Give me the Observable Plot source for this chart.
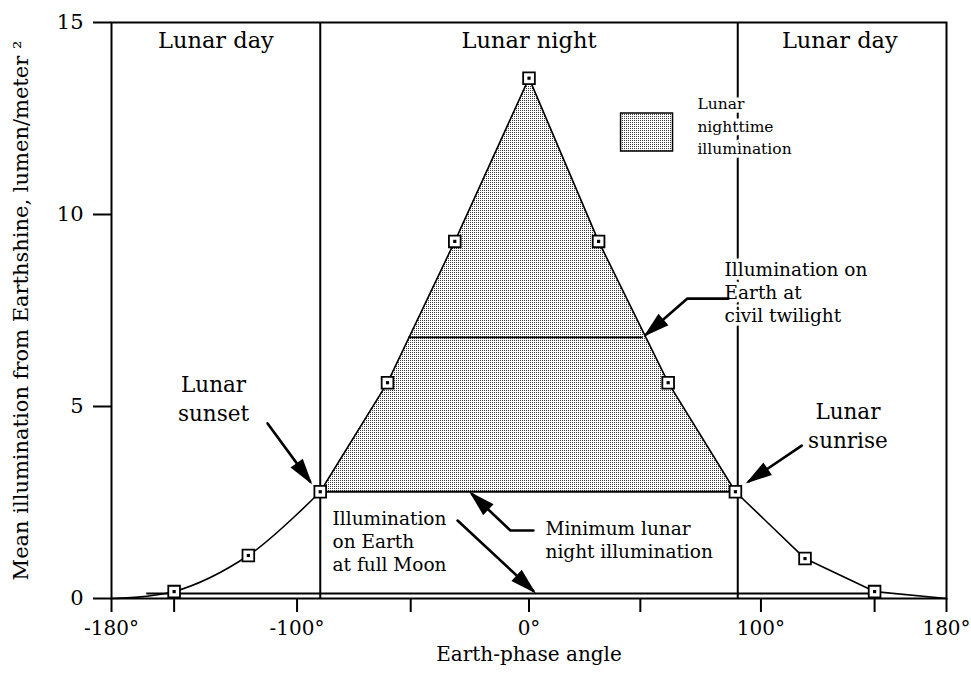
<!DOCTYPE html>
<html>
<head>
<meta charset="utf-8">
<script src="https://cdn.jsdelivr.net/npm/d3@7"></script>
<script src="https://cdn.jsdelivr.net/npm/@observablehq/plot@0.6"></script>
<style>
  html, body { margin: 0; padding: 0; background: white; }
  #chart { width: 971px; height: 678px; }
</style>
</head>
<body>
<svg width="0" height="0" style="position:absolute">
  <defs>
    <pattern id="stipple" width="2" height="2" patternUnits="userSpaceOnUse">
      <rect width="2" height="2" fill="white"/>
      <rect x="0" y="0" width="1" height="1" fill="#3a3a3a"/>
    </pattern>
  </defs>
</svg>
<div id="chart"></div>
<script>
// ---- data ----
const angles = [-180, -153, -121, -90, -61, -32, 0, 30, 60, 89, 119, 149, 180];
const illumination = [0, 0.18, 1.12, 2.78, 5.62, 9.3, 13.55, 9.3, 5.62, 2.78, 1.04, 0.18, 0];
const markerAngles = [-153, -121, -90, -61, -32, 0, 30, 60, 89, 119, 149];
const minNightIllum = 2.78;
const civilTwilightIllum = 6.8;
const civilTwilightRange = [-52, 49];
const fullMoonIllum = 0.13;
const fullMoonRange = [-165, 149];
const phaseBoundaries = [-90, 90];

const xTickValues = [-180, -153, -100, -51, 0, 48, 100, 149, 180];
const xTickLabels = ["-180°", "", "-100°", "", "0°", "", "100°", "", "180°"];
const yTickValues = [0, 5, 10, 15];

// annotation texts and their anchors (data coordinates)
const headerText = ["Lunar day", "Lunar night", "Lunar day"];
const headerX = [-135, 0, 134];
const headerY = [14.52, 14.52, 14.52];

const eventText = ["Lunar\nsunset", "Lunar\nsunrise"];
const eventX = [-136, 137.5];
const eventY = [5.23, 4.53];

const noteText = ["Illumination on\nEarth at\ncivil twilight", "Illumination\non Earth\nat full Moon", "Minimum lunar\nnight illumination"];
const noteX = [84.3, -84.7, 7.1];
const noteY = [7.99, 1.51, 1.54];

const legendText = "Lunar\nnighttime\nillumination";
const legendTextPos = [72.6, 12.34];
const legendBox = [39.7, 62.1, 11.64, 12.63];

// arrows: each a polyline, the last point being the tip
const arrowPaths = [
  [[-112.7, 4.56], [-94.4, 3.05]],            // lunar sunset
  [[117.6, 3.98], [94.8, 3.05]],              // lunar sunrise
  [[86.0, 7.81], [68.3, 7.81], [50.6, 6.88]], // civil twilight
  [[1.9, 1.77], [-8.0, 1.77], [-24.6, 2.72]], // minimum night illumination
  [[-30.8, 2.03], [1.8, 0.2]]                 // full moon
];

// ---- build tables ----
const curve = angles.map((a, i) => ({x: a, y: illumination[i]}));
const leftCurve = curve.filter(d => d.x <= -90);
const mainCurve = curve.filter(d => d.x >= -90);
const markers = curve.filter(d => markerAngles.includes(d.x));
const nightArea = curve.filter(d => d.x >= phaseBoundaries[0] && d.x <= phaseBoundaries[1]);
const arrowRows = arrowPaths.flatMap((p, k) => p.map(([x, y]) => ({k, x, y})));
const headers = headerText.map((t, i) => ({t, x: headerX[i], y: headerY[i]}));
const events = eventText.map((t, i) => ({t, x: eventX[i], y: eventY[i]}));
const notes = noteText.map((t, i) => ({t, x: noteX[i], y: noteY[i]}));

const serif = "DejaVu Serif";

const plot = Plot.plot({
  width: 971,
  height: 678,
  marginLeft: 111,
  marginRight: 25,
  marginTop: 22,
  marginBottom: 80,
  style: {fontFamily: serif, fontSize: "19px", background: "white", color: "black"},
  x: {domain: [-180, 180]},
  y: {domain: [0, 15]},
  marks: [
    Plot.areaY(nightArea, {x: "x", y1: minNightIllum, y2: "y", fill: "url(#stipple)"}),
    Plot.ruleX(phaseBoundaries, {stroke: "black", strokeWidth: 2}),
    Plot.line(leftCurve, {x: "x", y: "y", curve: "catmull-rom", stroke: "black", strokeWidth: 1.6}),
    Plot.line(mainCurve, {x: "x", y: "y", stroke: "black", strokeWidth: 1.6}),
    Plot.link([0], {x1: phaseBoundaries[0], x2: phaseBoundaries[1], y1: minNightIllum, y2: minNightIllum, stroke: "black", strokeWidth: 2}),
    Plot.link([0], {x1: civilTwilightRange[0], x2: civilTwilightRange[1], y1: civilTwilightIllum, y2: civilTwilightIllum, stroke: "black", strokeWidth: 1.8}),
    Plot.link([0], {x1: fullMoonRange[0], x2: fullMoonRange[1], y1: fullMoonIllum, y2: fullMoonIllum, stroke: "black", strokeWidth: 2}),
    Plot.dot(markers, {x: "x", y: "y", symbol: "square", r: 6.6, fill: "white", stroke: "black", strokeWidth: 1.8}),
    Plot.dot(markers, {x: "x", y: "y", symbol: "square", r: 1.8, fill: "black"}),
    Plot.rect([0], {x1: legendBox[0], x2: legendBox[1], y1: legendBox[2], y2: legendBox[3], fill: "url(#stipple)", stroke: "black", strokeWidth: 1.5}),
    Plot.text(headers, {x: "x", y: "y", text: "t", fontSize: 22.5, fill: "black"}),
    Plot.text(events, {x: "x", y: "y", text: "t", fontSize: 21.5, lineHeight: 1.35, fill: "black"}),
    Plot.text(notes, {x: "x", y: "y", text: "t", fontSize: 18.5, lineHeight: 1.25, textAnchor: "start", fill: "black", stroke: "white", strokeWidth: 7}),
    Plot.text([legendText], {x: legendTextPos[0], y: legendTextPos[1], text: d => d, fontSize: 15.5, lineHeight: 1.45, textAnchor: "start", fill: "black", stroke: "white", strokeWidth: 7}),
    Plot.line(arrowRows, {x: "x", y: "y", z: "k", stroke: "black", strokeWidth: 2.6, markerEnd: "arrow"}),
    Plot.frame({stroke: "black", strokeWidth: 2}),
    Plot.axisX({ticks: xTickValues, tickFormat: (d, i) => xTickLabels[xTickValues.indexOf(d)], tickSize: 14, tickPadding: 8, strokeWidth: 2,
      label: "Earth-phase angle", labelAnchor: "center", labelOffset: 62, labelArrow: "none", fontSize: 20}),
    Plot.axisY({ticks: yTickValues, tickFormat: d => String(d), tickSize: 18, tickPadding: 10, strokeWidth: 2,
      label: "Mean illumination from Earthshine, lumen/meter ²", labelAnchor: "center", labelOffset: 98, labelArrow: "none", fontSize: 21})
  ]
});

// filled arrowheads
plot.querySelectorAll("marker").forEach(m => {
  m.setAttribute("viewBox", "-12 -4.5 14 9");
  m.setAttribute("markerUnits", "userSpaceOnUse");
  m.setAttribute("markerWidth", "27");
  m.setAttribute("markerHeight", "17");
  m.setAttribute("refX", "0");
  m.setAttribute("refY", "0");
  m.innerHTML = "";
  const p = document.createElementNS("http://www.w3.org/2000/svg", "path");
  p.setAttribute("d", "M-12,-4L2,0L-12,4Z");
  p.setAttribute("fill", "black");
  p.setAttribute("stroke", "none");
  m.appendChild(p);
});

document.getElementById("chart").appendChild(plot);
</script>
</body>
</html>
